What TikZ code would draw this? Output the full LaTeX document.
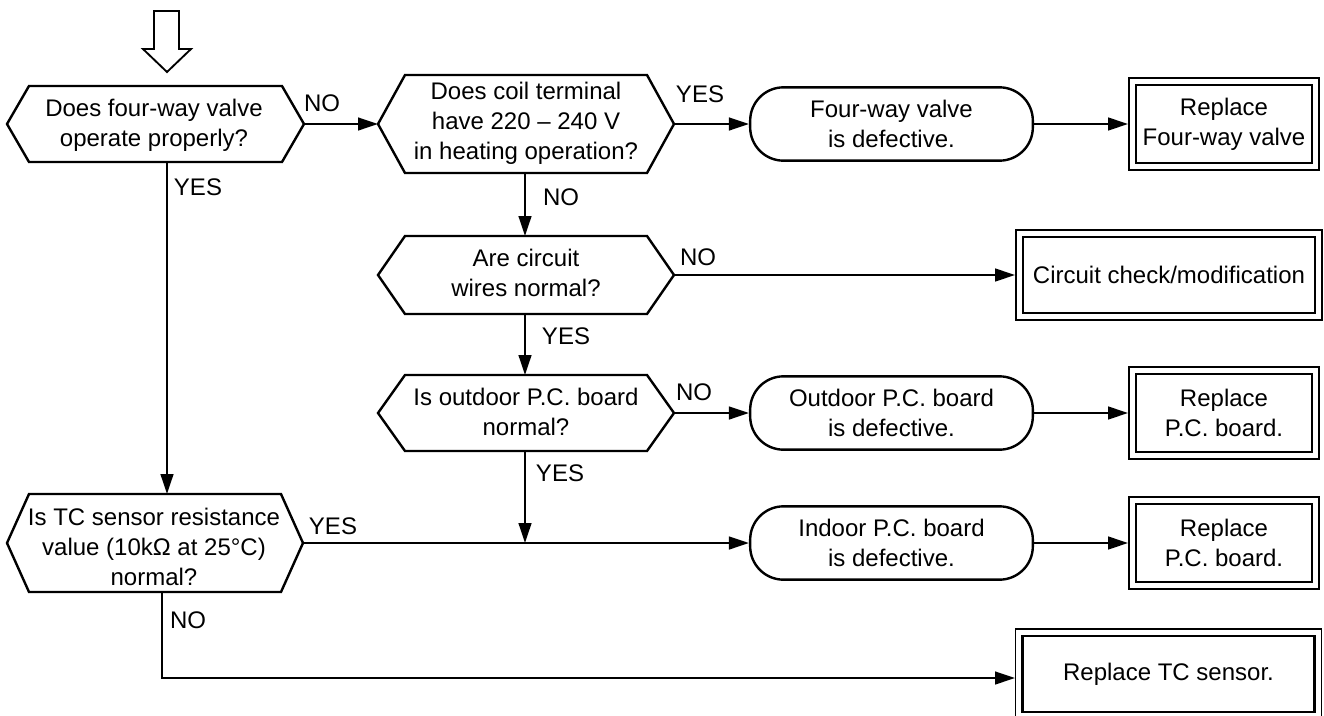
\documentclass[tikz,border=0pt]{standalone}
\usepackage{fontspec}
\setmainfont{Liberation Sans}
\usetikzlibrary{arrows.meta}
\newcommand\hexa[6]{%
  \draw[hexline] (#2,{(#4+#5)/2}) -- (#2+#6,#4) -- (#3-#6,#4) -- (#3,{(#4+#5)/2}) -- (#3-#6,#5) -- (#2+#6,#5) -- cycle;
  \coordinate (#1-w) at (#2,{(#4+#5)/2});
  \coordinate (#1-e) at (#3,{(#4+#5)/2});}
\begin{document}
\begin{tikzpicture}[x=0.75pt,y=-0.75pt,
  every node/.style={font=\fontsize{18pt}{22.5pt}\selectfont, inner sep=0pt, align=center},
  arr/.style={line width=1.8pt, -{Triangle[length=15pt,width=9.5pt]}},
  hexline/.style={line width=1.8pt, line join=miter},
  rbox/.style={draw, line width=1.8pt, rounded corners=25pt, minimum width=212pt, minimum height=55pt},
  dbox/.style={draw, line width=1.4pt, minimum height=69pt, minimum width=142.5pt},
  wbox/.style={dbox, minimum width=229.5pt, minimum height=67.5pt}]
\useasboundingbox (0,0) rectangle (1324,715);

% start arrow
\draw[line width=1.4pt, line join=miter] (154,11) -- (179,11) -- (179,49) -- (191,49) -- (167,72) -- (143,49) -- (154,49) -- cycle;

% decisions
\hexa{h1}{7}{304}{86}{162}{22}
\hexa{h2}{378}{674}{75}{173}{27}
\hexa{h3}{378}{674}{236}{314}{27}
\hexa{h4}{378}{674}{375}{451}{27}
\hexa{h5}{7}{303}{494}{592}{22}

\node (t1) at (154,125) {Does four-way valve\\operate properly?};
\node (t2) at (526,123) {Does coil terminal\\have 220 – 240 V\\in heating operation?};
\node (t3) at (526,273) {Are circuit\\wires normal?};
\node (t4) at (526,412) {Is outdoor P.C. board\\normal?};
\node (t5) at (154,547) {Is TC sensor resistance\\value (10kΩ at 25°C)\\normal?};

% results
\node[rbox] (b1) at (891.5,124) {Four-way valve\\is defective.};
\node[rbox] (b2) at (891.5,413) {Outdoor P.C. board\\is defective.};
\node[rbox] (b3) at (891.5,543) {Indoor P.C. board\\is defective.};

% actions
\node[dbox] (r1) at (1224,124) {Replace\\Four-way valve};
\node[dbox] (r2) at (1224,413) {Replace\\P.C. board.};
\node[dbox] (r3) at (1224,543) {Replace\\P.C. board.};
\node[wbox] (r4) at (1169,275) {Circuit check/modification};
\node[wbox] (r5) at (1168.5,674) {Replace TC sensor.};
\foreach \n in {r1,r2,r3,r4,r5}
  \draw[line width=2.1pt] ([shift={(6pt,-6pt)}]\n.north west) rectangle ([shift={(-6pt,6pt)}]\n.south east);

% connector points
\coordinate (h1s) at (167,162);
\coordinate (h5n) at (167,494);
\coordinate (h2s) at (525,173);
\coordinate (h3n) at (525,236);
\coordinate (h3s) at (525,314);
\coordinate (h4n) at (525,375);
\coordinate (h4s) at (525,451);
\coordinate (j) at (525,543);
\coordinate (h5s) at (162,592);
\coordinate (tcin) at (1015,678);

% connectors
\draw[arr] (h1-e) -- (h2-w);
\draw[arr] (h2-e) -- (b1.west);
\draw[arr] (b1.east) -- (r1.west);
\draw[arr] (h2s) -- (h3n);
\draw[arr] (h3-e) -- (r4.west);
\draw[arr] (h3s) -- (h4n);
\draw[arr] (h4-e) -- (b2.west);
\draw[arr] (b2.east) -- (r2.west);
\draw[arr] (h4s) -- (j);
\draw[arr] (h1s) -- (h5n);
\draw[arr] (h5-e) -- (b3.west);
\draw[arr] (b3.east) -- (r3.west);
\draw[arr] (h5s) |- (tcin);

% labels
\node (n1) at (322,103) {NO};
\node (y1) at (198,187) {YES};
\node (y2) at (700,94) {YES};
\node (n2) at (561,197) {NO};
\node (n3) at (698,257) {NO};
\node (y3) at (566,336) {YES};
\node (n4) at (694,392) {NO};
\node (y4) at (560,473) {YES};
\node (y5) at (333,526) {YES};
\node (n5) at (188,620) {NO};
\end{tikzpicture}
\end{document}
